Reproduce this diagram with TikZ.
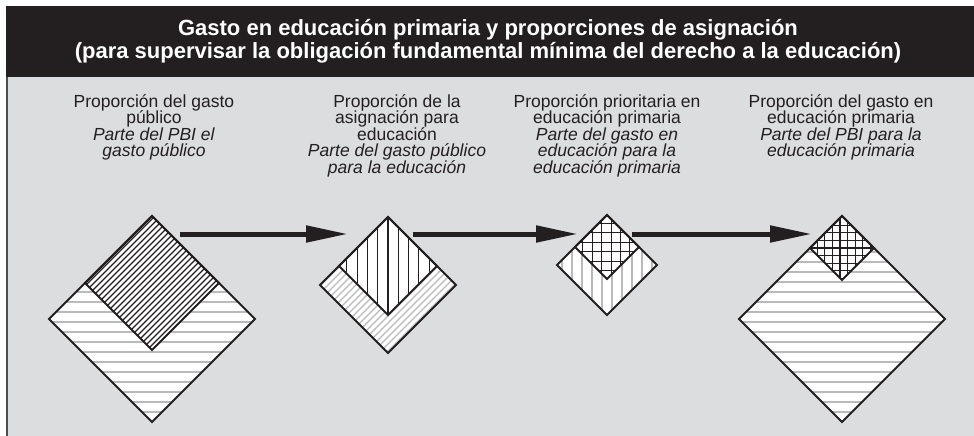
\documentclass[tikz,border=0pt]{standalone}
\usepackage{fontspec}
\setmainfont{Liberation Sans}
\usetikzlibrary{arrows.meta}

\definecolor{balken}{HTML}{231F20}
\definecolor{hintergrund}{HTML}{DCDDDE}
\definecolor{hellgrau}{HTML}{B9BABC}
\lineskiplimit=-20pt

% Raute: Mitte x, Mitte y, halbe Diagonale
\newcommand{\raute}[3]{({#1},{#2-#3}) -- ({#1+#3},{#2}) -- ({#1},{#2+#3}) -- ({#1-#3},{#2}) -- cycle}

\begin{document}
\begin{tikzpicture}[x=1pt,y=-1pt,
    rand/.style={draw=balken,line width=2pt},
    grau/.style={draw=hellgrau,line width=1.3pt},
    schraffur/.style={draw=balken,line width=1.1pt},
    pfeil/.style={draw=balken,line width=5pt,-{Triangle[length=42pt,width=16pt]}},
    beschriftung/.style={align=center,anchor=north,inner sep=0pt,text=balken,
        font=\fontsize{17.5}{16.5}\selectfont}]
        \useasboundingbox (0,0) rectangle (974,436);

        % Hintergrund und Titel
        \fill[hintergrund] (6,77) rectangle (974,436);
        \draw[balken!80,line width=1.5pt] (7,77) -- (7,436);
        \fill[balken] (6,6) rectangle (974,77);
        \node[text=white,align=center,font=\bfseries\fontsize{22}{23}\selectfont] (titel) at (488,41)
            {Gasto en educación primaria y proporciones de asignación\\
             (para supervisar la obligación fundamental mínima del derecho a la educación)};

        % Texte
        \node[beschriftung] (text1) at (154,94) {Proporción del gasto\\público\\
            \textit{Parte del PBI el}\\\textit{gasto público}};
        \node[beschriftung] (text2) at (397,94) {Proporción de la\\asignación para\\educación\\
            \textit{Parte del gasto público}\\\textit{para la educación}};
        \node[beschriftung] (text3) at (607,94) {Proporción prioritaria en\\educación primaria\\
            \textit{Parte del gasto en}\\\textit{educación para la}\\\textit{educación primaria}};
        \node[beschriftung] (text4) at (841,94) {Proporción del gasto en\\educación primaria\\
            \textit{Parte del PBI para la}\\\textit{educación primaria}};

        % Raute 1
        \fill[white] \raute{152}{319}{103};
        \begin{scope}
            \clip \raute{152}{319}{103};
            \foreach \y in {222,232,...,412}
                \draw[grau] (40,\y) -- (260,\y);
        \end{scope}
        \fill[white] \raute{152}{283}{67};
        \begin{scope}
            \clip \raute{152}{283}{67};
            \foreach \c in {371,377,...,500}
                \draw[schraffur] ({\c-200},200) -- ({\c-370},370);
        \end{scope}
        \draw[rand] \raute{152}{319}{103};
        \draw[rand] \raute{152}{283}{67};

        % Raute 2
        \fill[white] \raute{388}{285}{68};
        \begin{scope}
            \clip \raute{388}{285}{68};
            \foreach \c in {606,613,...,741}
                \draw[grau] ({\c-200},200) -- ({\c-370},370);
        \end{scope}
        \fill[white] \raute{388}{266}{49};
        \begin{scope}
            \clip \raute{388}{266}{49};
            \foreach \k in {-4,...,4}
                \draw[schraffur] ({388+10.3*\k},200) -- ({388+10.3*\k},330);
        \end{scope}
        \draw[rand] \raute{388}{285}{68};
        \draw[rand] \raute{388}{266}{49};

        % Raute 3
        \fill[white] \raute{607}{265}{50};
        \begin{scope}
            \clip \raute{607}{265}{50};
            \foreach \x in {562,572,...,652}
                \draw[grau] (\x,210) -- (\x,320);
        \end{scope}
        \fill[white] \raute{607}{247}{32};
        \begin{scope}
            \clip \raute{607}{247}{32};
            \foreach \k in {-4,...,3} {
                \draw[schraffur] ({611.1+9.4*\k},210) -- ({611.1+9.4*\k},285);
                \draw[schraffur] (570,{251.7+9.4*\k}) -- (645,{251.7+9.4*\k});
            }
        \end{scope}
        \draw[rand] \raute{607}{265}{50};
        \draw[rand] \raute{607}{247}{32};

        % Raute 4
        \fill[white] \raute{842}{319}{103};
        \begin{scope}
            \clip \raute{842}{319}{103};
            \foreach \y in {222,232,...,412}
                \draw[grau] (730,\y) -- (950,\y);
        \end{scope}
        \fill[white] \raute{842}{248}{32};
        \begin{scope}
            \clip \raute{842}{248}{32};
            \foreach \k in {-5,...,5} {
                \draw[schraffur] ({840+7.6*\k},210) -- ({840+7.6*\k},285);
                \draw[schraffur] (805,{248+7.6*\k}) -- (880,{248+7.6*\k});
            }
        \end{scope}
        \draw[rand] \raute{842}{319}{103};
        \draw[rand] \raute{842}{248}{32};

        % Pfeile
        \coordinate (p1a) at (180,234);
        \coordinate (p1b) at (348,234);
        \coordinate (p2a) at (413,234);
        \coordinate (p2b) at (578,234);
        \coordinate (p3a) at (632,234);
        \coordinate (p3b) at (812,234);
        \draw[pfeil] (p1a) -- (p1b);
        \draw[pfeil] (p2a) -- (p2b);
        \draw[pfeil] (p3a) -- (p3b);
    \end{tikzpicture}
\end{document}
